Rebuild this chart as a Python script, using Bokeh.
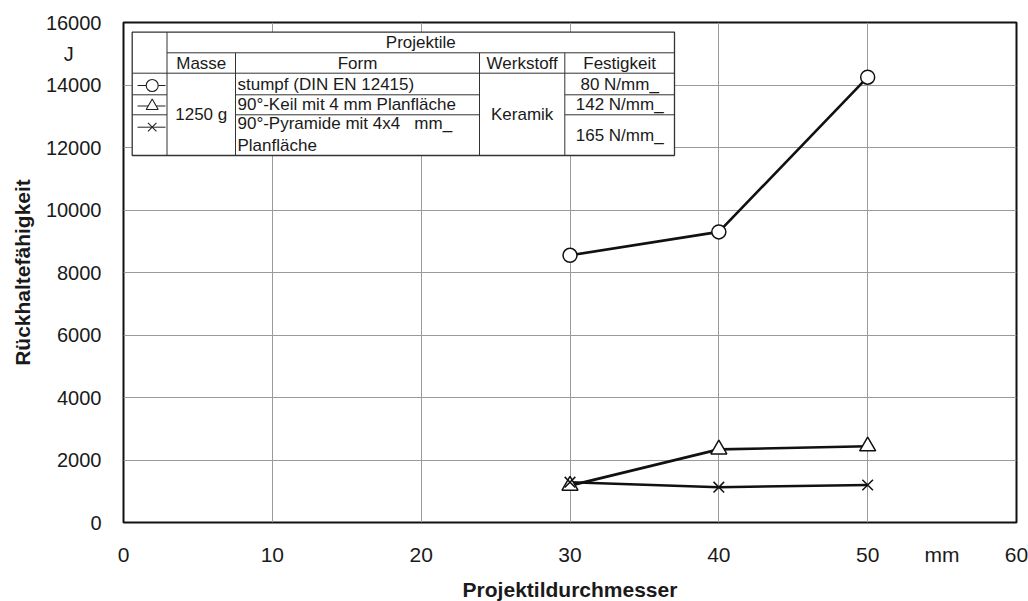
from bokeh.plotting import figure
from bokeh.models import Range1d, FixedTicker
from bokeh.embed import file_html
from bokeh.resources import INLINE
from bokeh.core.properties import value

# ---------------- data ----------------
diameter = [30, 40, 50]                 # Projektildurchmesser in mm
stumpf = [8550, 9300, 14250]            # stumpf (DIN EN 12415), J
keil = [1180, 2340, 2440]               # 90°-Keil mit 4 mm Planfläche, J
pyramide = [1290, 1130, 1200]           # 90°-Pyramide mit 4x4 mm² Planfläche, J

x_ticks = [0, 10, 20, 30, 40, 50, 60]
y_ticks = [0, 2000, 4000, 6000, 8000, 10000, 12000, 14000, 16000]

table_title = "Projektile"
table_headers = ["Masse", "Form", "Werkstoff", "Festigkeit"]
table_mass = "1250 g"
table_forms = ["stumpf (DIN EN 12415)", "90°-Keil mit 4 mm Planfläche",
               "90°-Pyramide mit 4x4\u00a0\u00a0 mm_", "Planfläche"]
table_material = "Keramik"
table_strength = ["80 N/mm_", "142 N/mm_", "165 N/mm_"]

x_title = "Projektildurchmesser"
y_title = "Rückhaltefähigkeit"
x_unit = "mm"
y_unit = "J"
x_unit_at = 55       # unit label sits between the 50 and 60 tick labels
y_unit_at = 15000    # unit label sits between the 14000 and 16000 tick labels

FONT = "Liberation Sans"
INK = "#1a1a1a"

# ---------------- figure ----------------
FL, FT, FW, FH = 123, 22, 893, 500
p = figure(frame_width=FW, frame_height=FH,
           x_range=Range1d(0, 60), y_range=Range1d(0, 16000),
           output_backend="svg", toolbar_location=None,
           min_border_left=FL, min_border_right=1028 - FL - FW,
           min_border_top=FT, min_border_bottom=79)
p.background_fill_color = "white"
p.border_fill_color = "white"
p.outline_line_color = "#111111"
p.outline_line_width = 2

p.xgrid.ticker = FixedTicker(ticks=x_ticks)
p.ygrid.ticker = FixedTicker(ticks=y_ticks)
p.grid.grid_line_color = "#9a9a9a"
p.grid.grid_line_width = 1

p.xaxis.ticker = FixedTicker(ticks=x_ticks + [x_unit_at])
p.yaxis.ticker = FixedTicker(ticks=y_ticks + [y_unit_at])
p.xaxis.major_label_overrides = {x_unit_at: x_unit}
p.yaxis.major_label_overrides = {y_unit_at: y_unit + "\u00a0" * 5}
for ax in (p.xaxis, p.yaxis):
    ax.axis_line_color = None
    ax.major_tick_line_color = None
    ax.minor_tick_line_color = None
    ax.major_label_text_font = FONT
    ax.major_label_text_color = INK
    ax.axis_label_text_font = FONT
    ax.axis_label_text_font_style = "bold"
    ax.axis_label_text_font_size = "21px"
    ax.axis_label_text_color = INK
p.xaxis.major_label_text_font_size = "21px"
p.yaxis.major_label_text_font_size = "20px"
p.xaxis.major_label_standoff = 14
p.yaxis.major_label_standoff = 16
p.xaxis.axis_label = x_title
p.yaxis.axis_label = y_title
p.xaxis.axis_label_standoff = 9
p.yaxis.axis_label_standoff = 9


def dx(px):
    return (px - FL) / FW * 60.0


def dy(py):
    return (FT + FH - py) / FH * 16000.0


# ---------------- series ----------------
p.line(diameter, stumpf, line_color="#111111", line_width=2.6)
p.line(diameter, keil, line_color="#111111", line_width=2.6)
p.line(diameter, pyramide, line_color="#111111", line_width=2.6)
p.scatter(diameter, stumpf, marker="circle", size=14, fill_color="white",
          line_color="#111111", line_width=1.5)
p.scatter(diameter, keil, marker="triangle", size=16, fill_color="white",
          line_color="#111111", line_width=1.5)
p.scatter(diameter, pyramide, marker="x", size=15,
          line_color="#111111", line_width=1.5)

# ---------------- legend table ----------------
cols = [131.7, 166.5, 235, 479, 564.3, 674]
rows = [31.7, 52.3, 72.7, 94.3, 114.3, 155]

p.quad(left=[dx(cols[0])], right=[dx(cols[-1])], top=[dy(rows[0])],
       bottom=[dy(rows[-1])], fill_color="white", line_color="#333333",
       line_width=1.3)

segs = []
segs.append((cols[1], rows[0], cols[1], rows[-1]))
segs.append((cols[1], rows[1], cols[-1], rows[1]))
segs.append((cols[0], rows[2], cols[-1], rows[2]))
for c in (cols[2], cols[3], cols[4]):
    segs.append((c, rows[1], c, rows[-1]))
for r in (rows[3], rows[4]):
    segs.append((cols[0], r, cols[1], r))
    segs.append((cols[2], r, cols[3], r))
    segs.append((cols[4], r, cols[5], r))
p.segment(x0=[dx(s[0]) for s in segs], y0=[dy(s[1]) for s in segs],
          x1=[dx(s[2]) for s in segs], y1=[dy(s[3]) for s in segs],
          line_color="#333333", line_width=1)

# legend symbols
sym_y = [85, 105.5, 126.7]
sym_marker = ["circle", "triangle", "x"]
p.segment(x0=[dx(137)] * 3, y0=[dy(v) for v in sym_y],
          x1=[dx(165)] * 3, y1=[dy(v) for v in sym_y],
          line_color="#222222", line_width=1)
for yy, mk in zip(sym_y, sym_marker):
    p.scatter([dx(151.7)], [dy(yy)], marker=mk, size=12,
              fill_color="white", line_color="#222222", line_width=1.1)

TFS = "17px"
center_texts = ([table_title] + table_headers + [table_mass, table_material]
                + table_strength)
center_x = ([(cols[1] + cols[-1]) / 2]
            + [(cols[i] + cols[i + 1]) / 2 for i in range(1, 5)]
            + [(cols[1] + cols[2]) / 2, (cols[3] + cols[4]) / 2]
            + [(cols[4] + cols[5]) / 2] * 3)
center_y = ([(rows[0] + rows[1]) / 2] + [(rows[1] + rows[2]) / 2] * 4
            + [(rows[2] + rows[-1]) / 2] * 2
            + [(rows[2] + rows[3]) / 2, (rows[3] + rows[4]) / 2,
               (rows[4] + rows[5]) / 2])
p.text(x=[dx(v) for v in center_x], y=[dy(v) for v in center_y],
       text=center_texts, text_align="center", text_baseline="middle",
       text_font=value(FONT), text_font_size=TFS, text_color=INK)

form_y = [(rows[2] + rows[3]) / 2, (rows[3] + rows[4]) / 2, 123, 145]
p.text(x=[dx(cols[2] + 2)] * 4, y=[dy(v) for v in form_y],
       text=table_forms, text_align="left", text_baseline="middle",
       text_font=value(FONT), text_font_size=TFS, text_color=INK)

open("out.html", "w").write(file_html(p, INLINE))
